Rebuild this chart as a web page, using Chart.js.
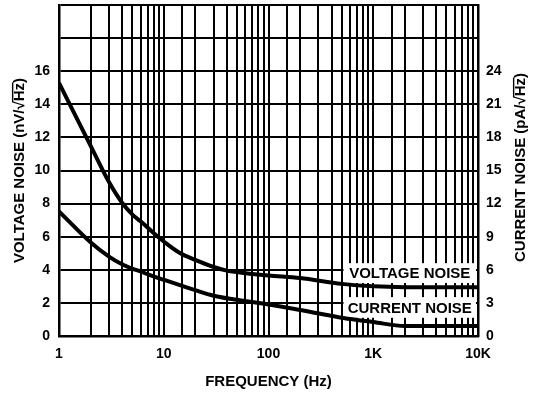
<!DOCTYPE html>
<html>
<head>
<meta charset="utf-8">
<script src="https://cdn.jsdelivr.net/npm/chart.js@4"></script>
<style>
html,body{margin:0;padding:0;background:#fff;}
#wrap{width:538px;height:397px;position:relative;}
</style>
</head>
<body>
<div id="wrap"><canvas id="c" width="538" height="397"></canvas></div>
<script>
// Frequencies (Hz)
const vFreq = [1, 2, 3, 4, 5, 6, 7, 8, 10, 14.4, 20, 29, 40, 70, 100, 200, 500, 1000, 2000, 10000];
// Voltage noise, nV/√Hz (left axis)
const vNoise = [15.3, 11.5, 9.3, 8.05, 7.35, 6.93, 6.56, 6.22, 5.71, 5.0, 4.6, 4.2, 3.95, 3.75, 3.65, 3.5, 3.15, 3.0, 2.95, 2.95];
const iFreq = [1, 2, 3, 4, 5, 6, 7, 8, 10, 15, 20, 30, 67, 100, 200, 520, 1000, 2000, 10000];
// Current noise, pA/√Hz (right axis)
const iNoise = [11.3, 8.5, 7.2, 6.5, 6.1, 5.85, 5.6, 5.4, 5.1, 4.55, 4.15, 3.65, 3.1, 2.85, 2.36, 1.64, 1.27, 0.9, 0.9];
// Tick labels
const xTickLabels = {1: '1', 10: '10', 100: '100', 1000: '1K', 10000: '10K'};
const leftMaxLabel = 16;
const rightMaxLabel = 24;
// Titles / annotation texts
const xTitle = 'FREQUENCY (Hz)';
const yTitle = ['VOLTAGE NOISE (nV/', '√', 'Hz', ')'];
const y2Title = ['CURRENT NOISE (pA/', '√', 'Hz', ')'];
const labelV = 'VOLTAGE NOISE';
const labelI = 'CURRENT NOISE';

const FONT = "'Liberation Sans', Arial, Helvetica, sans-serif";

function drawRotTitle(ctx, parts, cx, cy) {
  ctx.save();
  ctx.translate(cx, cy);
  ctx.rotate(-Math.PI / 2);
  ctx.font = 'bold 15px ' + FONT;
  ctx.fillStyle = '#000';
  ctx.textBaseline = 'middle';
  ctx.textAlign = 'left';
  const full = parts.join('');
  const w = ctx.measureText(full).width;
  let x = -w / 2;
  ctx.fillText(full, x, 0);
  const pre = ctx.measureText(parts[0] + parts[1]).width;
  const hz = ctx.measureText(parts[2]).width;
  const m = ctx.measureText('H');
  const asc = m.actualBoundingBoxAscent || 5;
  ctx.strokeStyle = '#000';
  ctx.lineWidth = 1.4;
  ctx.beginPath();
  ctx.moveTo(x + pre - 1, -asc - 1.5);
  ctx.lineTo(x + pre + hz + 0.5, -asc - 1.5);
  ctx.stroke();
  ctx.restore();
}

const decor = {
  id: 'decor',
  beforeDatasetsDraw(chart) {
    const ctx = chart.ctx, xs = chart.scales.x, ys = chart.scales.y, ca = chart.chartArea;
    function box(fLeft, vTop, vBot, text) {
      const l = xs.getPixelForValue(fLeft), r = ca.right - 2;
      const t = ys.getPixelForValue(vTop), b = ys.getPixelForValue(vBot);
      ctx.save();
      ctx.fillStyle = '#fff';
      ctx.fillRect(l, t, r - l, b - t);
      ctx.font = 'bold 15px ' + FONT;
      ctx.fillStyle = '#000';
      ctx.textAlign = 'center';
      ctx.textBaseline = 'middle';
      ctx.fillText(text, (l + r) / 2, (t + b) / 2 + 1);
      ctx.restore();
    }
    box(520, 4.4, 3.2, labelV);
    box(520, 2.35, 1.1, labelI);
  },
  afterDraw(chart) {
    const ctx = chart.ctx, ca = chart.chartArea;
    const cy = (ca.top + ca.bottom) / 2;
    drawRotTitle(ctx, yTitle, 20, cy);
    drawRotTitle(ctx, y2Title, 521, cy - 3);
    ctx.save();
    ctx.font = 'bold 15px ' + FONT;
    ctx.fillStyle = '#000';
    ctx.textAlign = 'center';
    ctx.textBaseline = 'middle';
    ctx.fillText(xTitle, (ca.left + ca.right) / 2, 382);
    ctx.restore();
  }
};

const tickFont = {family: FONT, size: 14, weight: 'bold'};

function fitV(w) { return function (s) { s.width = w; s.paddingTop = 0; s.paddingBottom = 0; }; }

new Chart(document.getElementById('c'), {
  type: 'line',
  data: {
    datasets: [
      {label: 'Voltage noise', data: vFreq.map((f, i) => ({x: f, y: vNoise[i]})), yAxisID: 'y',
       borderColor: '#000', borderWidth: 4, pointRadius: 0, fill: false, cubicInterpolationMode: 'monotone'},
      {label: 'Current noise', data: iFreq.map((f, i) => ({x: f, y: iNoise[i]})), yAxisID: 'y2',
       borderColor: '#000', borderWidth: 4, pointRadius: 0, fill: false, cubicInterpolationMode: 'monotone'}
    ]
  },
  options: {
    responsive: false,
    animation: false,
    layout: {padding: {top: 5, left: 0, right: 0, bottom: 0}},
    plugins: {legend: {display: false}, tooltip: {enabled: false}},
    scales: {
      x: {
        type: 'logarithmic', min: 1, max: 10000,
        afterFit(s) { s.height = 61; s.paddingLeft = 0; s.paddingRight = 0; },
        grid: {color: '#000', lineWidth: 2, drawTicks: false},
        border: {color: '#000', width: 2.5},
        ticks: {
          autoSkip: false, maxRotation: 0, padding: 10, color: '#000', font: tickFont,
          callback(v) { return xTickLabels[v] !== undefined ? xTickLabels[v] : ''; }
        }
      },
      y: {
        position: 'left', min: 0, max: 20,
        afterFit: fitV(59),
        grid: {color: '#000', lineWidth: 2, drawTicks: false},
        border: {color: '#000', width: 2.5},
        ticks: {stepSize: 2, padding: 9, color: '#000', font: tickFont,
          callback(v) { return v <= leftMaxLabel ? String(v) : ''; }}
      },
      y2: {
        position: 'right', min: 0, max: 30,
        afterFit: fitV(60),
        grid: {display: false, drawTicks: false},
        border: {color: '#000', width: 2.5},
        ticks: {stepSize: 3, padding: 8, color: '#000', font: tickFont,
          callback(v) { return v <= rightMaxLabel ? String(v) : ''; }}
      }
    }
  },
  plugins: [decor]
});
</script>
</body>
</html>
